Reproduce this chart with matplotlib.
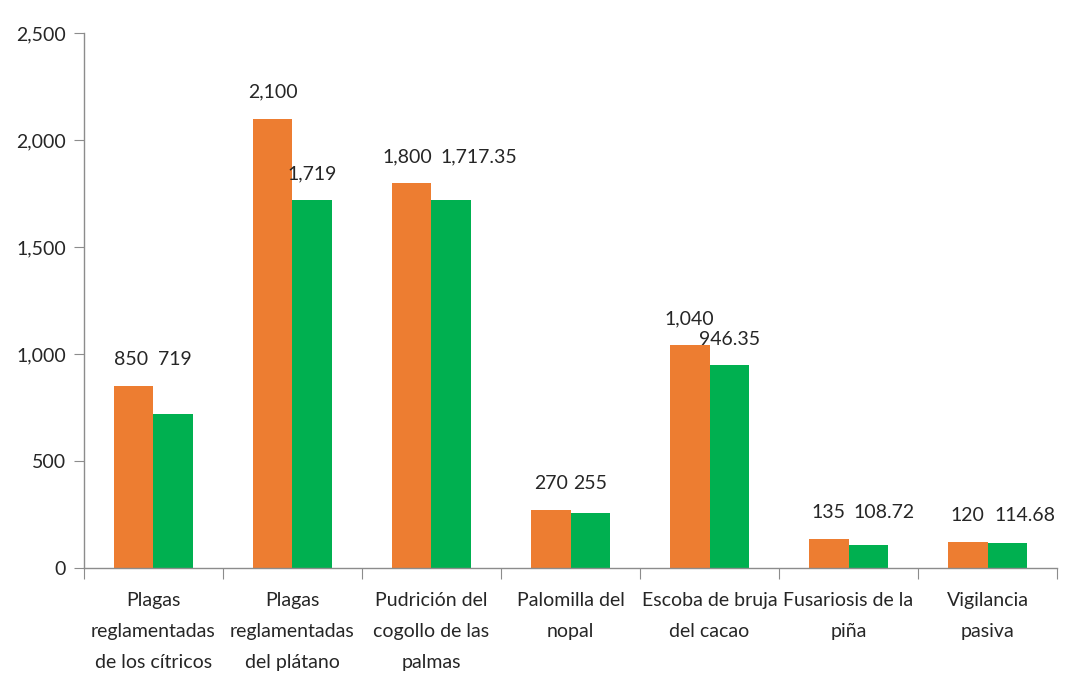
import numpy as np
import matplotlib.pyplot as plt
from matplotlib.ticker import FuncFormatter

# Chart data
categories = ['Plagas\nreglamentadas\nde los cítricos',
              'Plagas\nreglamentadas\ndel plátano',
              'Pudrición del\ncogollo de las\npalmas',
              'Palomilla del\nnopal',
              'Escoba de bruja\ndel cacao',
              'Fusariosis de la\npiña',
              'Vigilancia\npasiva']
orange_vals = [850, 2100, 1800, 270, 1040, 135, 120]
green_vals = [719, 1719, 1717.35, 255, 946.35, 108.72, 114.68]
orange_labels = ['850', '2,100', '1,800', '270', '1,040', '135', '120']
green_labels = ['719', '1,719', '1,717.35', '255', '946.35', '108.72', '114.68']

ORANGE = '#ED7D31'
GREEN = '#00B050'
TXT = '#262626'
FS = 14

plt.rcParams['font.family'] = ['Lato', 'DejaVu Sans']

fig = plt.figure(figsize=(10.75, 6.81), dpi=100)
ax = fig.add_axes([0.0781, 0.166, 0.9052, 0.7855])

x = np.arange(len(categories))
w = 0.285
ax.bar(x - w / 2, orange_vals, w, color=ORANGE)
ax.bar(x + w / 2, green_vals, w, color=GREEN)

# data labels (some were moved by hand in the original)
shared = [True, False, True, True, False, True, True]
nudge_o = [-2, 0, -3, 0, 0, 0, 0]
nudge_g = [1, 0, 20, 0, 0, 11, 13]
for i in range(len(categories)):
    ax.annotate(orange_labels[i], (x[i] - w / 2, orange_vals[i]),
                xytext=(nudge_o[i], 19), textcoords='offset points',
                ha='center', va='center', fontsize=FS, color=TXT)
    top = max(orange_vals[i], green_vals[i]) if shared[i] else green_vals[i]
    ax.annotate(green_labels[i], (x[i] + w / 2, top),
                xytext=(nudge_g[i], 19), textcoords='offset points',
                ha='center', va='center', fontsize=FS, color=TXT)

ax.set_xlim(-0.5, len(categories) - 0.5)
ax.set_ylim(0, 2500)
ax.set_yticks(np.arange(0, 2501, 500))
ax.yaxis.set_major_formatter(FuncFormatter(lambda v, p: f'{int(v):,}'))

ax.set_xticks(np.arange(-0.5, len(categories), 1))
ax.set_xticklabels([])
ax.set_xticks(x, minor=True)
ax.set_xticklabels(categories, minor=True, fontsize=FS, color=TXT,
                   linespacing=2.0)
ax.tick_params(axis='x', which='minor', length=0, pad=17)
ax.tick_params(axis='x', which='major', length=8, color='#8c8c8c')
ax.tick_params(axis='y', length=7, color='#8c8c8c', labelsize=FS,
               labelcolor=TXT, pad=6)

for s in ['top', 'right']:
    ax.spines[s].set_visible(False)
for s in ['left', 'bottom']:
    ax.spines[s].set_color('#8c8c8c')
    ax.spines[s].set_linewidth(1)

fig.savefig('out.png', dpi=100)
